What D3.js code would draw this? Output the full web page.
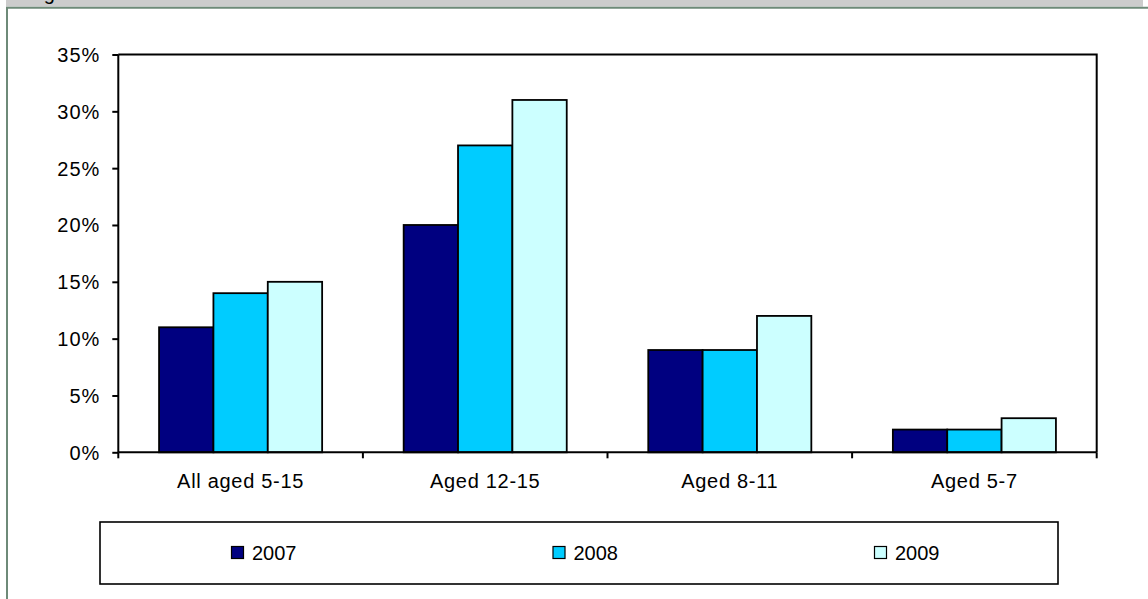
<!DOCTYPE html>
<html>
<head>
<meta charset="utf-8">
<script src="https://cdn.jsdelivr.net/npm/d3@7"></script>
<style>
  html, body { margin: 0; padding: 0; background: #fff; }
  svg { display: block; }
  text { font-family: "Liberation Sans", Arial, sans-serif; fill: #000; }
</style>
</head>
<body>
<svg id="chart" width="1148" height="599"></svg>
<script>
// Share of children by age group, three survey years
const categories = ["All aged 5-15", "Aged 12-15", "Aged 8-11", "Aged 5-7"];
const seriesNames = ["2007", "2008", "2009"];
const values2007 = [0.11, 0.20, 0.09, 0.02];
const values2008 = [0.14, 0.27, 0.09, 0.02];
const values2009 = [0.15, 0.31, 0.12, 0.03];
const yTicks = [0, 0.05, 0.10, 0.15, 0.20, 0.25, 0.30, 0.35];
const seriesColors = ["#000080", "#00CCFF", "#CCFFFF"];

const seriesValues = [values2007, values2008, values2009];

const svg = d3.select("#chart");
const W = 1148, H = 599;

// Page chrome: grey caption strip and framed panel
const clip = svg.append("defs").append("clipPath").attr("id", "strip");
clip.append("rect").attr("x", 6).attr("y", 0).attr("width", 1137).attr("height", 6.7);
svg.append("rect").attr("x", 6).attr("y", 0).attr("width", 1137).attr("height", 6.7).attr("fill", "#cccccc");
svg.append("text").attr("clip-path", "url(#strip)")
  .attr("x", 27).attr("y", 0).attr("font-size", 20).text("Figure");
svg.append("line").attr("x1", 6).attr("x2", W).attr("y1", 7.7).attr("y2", 7.7)
  .attr("stroke", "#6e8a78").attr("stroke-width", 2);
svg.append("line").attr("x1", 7).attr("x2", 7).attr("y1", 7).attr("y2", H)
  .attr("stroke", "#6e8a78").attr("stroke-width", 2);

// Plot area
const plotLeft = 118.3, plotRight = 1096.7, plotTop = 54.5, plotBottom = 452.3;

const x0 = d3.scaleBand().domain(categories).range([plotLeft, plotRight]).paddingInner(0).paddingOuter(0);
const bw = x0.bandwidth();
const gap = bw * 1.5 / 4.5 / 2; // 150% gap width, split on both sides
const x1 = d3.scaleBand().domain(seriesNames).range([gap, bw - gap]).padding(0);
const y = d3.scaleLinear().domain([0, 0.35]).range([plotBottom, plotTop]);

// Plot frame (top and right edges)
svg.append("path")
  .attr("d", `M${plotLeft},${plotTop}H${plotRight}V${plotBottom}`)
  .attr("fill", "none").attr("stroke", "#000").attr("stroke-width", 2);

// Bars
const groups = svg.append("g").selectAll("g")
  .data(categories).join("g")
  .attr("transform", d => `translate(${x0(d)},0)`);

groups.selectAll("rect")
  .data((c, i) => seriesNames.map((s, j) => ({ s, j, v: seriesValues[j][i] })))
  .join("rect")
  .attr("x", d => x1(d.s))
  .attr("width", x1.bandwidth())
  .attr("y", d => y(d.v))
  .attr("height", d => y(0) - y(d.v))
  .attr("fill", d => seriesColors[d.j])
  .attr("stroke", "#000").attr("stroke-width", 1.8);

// Y axis
const yAxis = svg.append("g")
  .attr("transform", `translate(${plotLeft},0)`)
  .call(d3.axisLeft(y).tickValues(yTicks).tickFormat(d3.format(".0%")).tickSize(6).tickPadding(12));
yAxis.select(".domain").attr("stroke", "#000").attr("stroke-width", 2).attr("d", `M0,${plotTop}V${plotBottom}`);
yAxis.selectAll(".tick line").attr("stroke", "#000").attr("stroke-width", 2);
yAxis.selectAll(".tick text").attr("font-size", 20).attr("font-family", "Liberation Sans, Arial, sans-serif")
  .attr("letter-spacing", "1px").attr("dy", "0.35em").attr("fill", "#000");

// X axis: category labels centred, tick marks on band boundaries
const xAxis = svg.append("g")
  .attr("transform", `translate(0,${plotBottom})`)
  .call(d3.axisBottom(x0).tickSize(0).tickPadding(22));
xAxis.select(".domain").attr("stroke", "#000").attr("stroke-width", 2).attr("d", `M${plotLeft},0H${plotRight}`);
xAxis.selectAll(".tick text").attr("font-size", 20).attr("font-family", "Liberation Sans, Arial, sans-serif")
  .attr("letter-spacing", "0.7px").attr("fill", "#000").attr("dy", "0.71em");

const boundaries = [x0(categories[0])].concat(categories.map(c => x0(c) + bw));
xAxis.selectAll(".bound").data(boundaries).join("line")
  .attr("class", "bound")
  .attr("x1", d => d).attr("x2", d => d)
  .attr("y1", 0).attr("y2", 6)
  .attr("stroke", "#000").attr("stroke-width", 2);

// Legend
const legend = svg.append("g");
legend.append("rect")
  .attr("x", 100).attr("y", 522).attr("width", 958).attr("height", 62)
  .attr("fill", "#fff").attr("stroke", "#000").attr("stroke-width", 1.6);

const legendX = d3.scalePoint().domain(seriesNames).range([231, 874]);
const items = legend.selectAll("g.item").data(seriesNames).join("g")
  .attr("class", "item")
  .attr("transform", d => `translate(${legendX(d)},0)`);
items.append("rect")
  .attr("x", 0.5).attr("y", 546.5).attr("width", 12).attr("height", 12)
  .attr("fill", (d, i) => seriesColors[i]).attr("stroke", "#000").attr("stroke-width", 1.2);
items.append("text")
  .attr("x", 21).attr("y", 560).attr("font-size", 20).text(d => d);
</script>
</body>
</html>
